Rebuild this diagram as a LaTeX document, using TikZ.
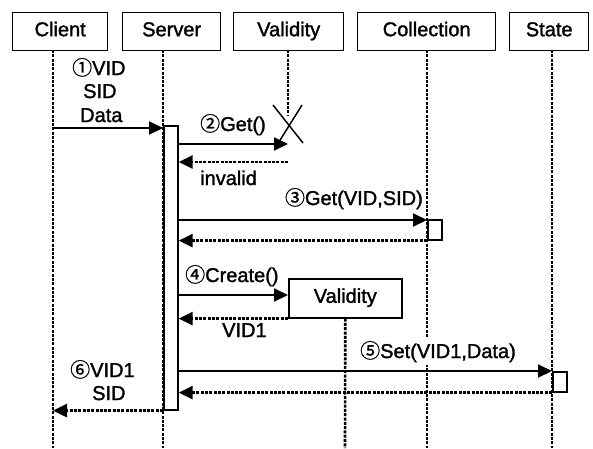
\documentclass[tikz,border=0pt]{standalone}
\usepackage{fontspec}
\setmainfont[FakeBold=1.5]{Liberation Sans}
\newfontfamily\cjk[FakeBold=1]{Noto Sans CJK JP}
\usetikzlibrary{arrows.meta}
\begin{document}
\begin{tikzpicture}[x=1pt,y=-1pt,
  txt/.style={font=\fontsize{20}{24}\selectfont},
  hdr/.style={draw,line width=1.4pt,txt,minimum height=38pt,inner sep=0pt,text height=14pt,text depth=5pt,anchor=north west},
  life/.style={line width=2.6pt,dash pattern=on 3pt off 1.3pt},
  msg/.style={line width=2pt,-{Triangle[length=14pt,width=13pt]}},
  ret/.style={life,-{Triangle[length=14pt,width=13pt]}},
  actbox/.style={draw,fill=white,line width=1.6pt,inner sep=0pt,anchor=north west},
  lbl/.style={txt,inner sep=0pt},
  cross/.style={line width=1.5pt}]
\useasboundingbox (0,0) rectangle (593,448);
% header boxes
\node[hdr,minimum width=95pt] (client) at (12,12) {Client};
\node[hdr,minimum width=98pt] (server) at (122,12) {Server};
\node[hdr,minimum width=110pt] (valid) at (233,12) {Validity};
\node[hdr,minimum width=138pt] (coll) at (357,12) {Collection};
\node[hdr,minimum width=79pt] (state) at (509,12) {State};
% lifeline end points
\coordinate (cT) at (53,50);  \coordinate (cB) at (53,448);
\coordinate (sT) at (163,50); \coordinate (sB) at (163,448);
\coordinate (vT) at (288,50); \coordinate (vX) at (288,116);
\coordinate (kT) at (427,50); \coordinate (kB) at (427,448);
\coordinate (tT) at (552,50); \coordinate (tB) at (552,448);
\coordinate (vbB) at (345,448);
% X end points
\coordinate (x1) at (273,105); \coordinate (x2) at (303,143);
\coordinate (x3) at (302,105); \coordinate (x4) at (277,145);
% message heights
\coordinate (y1) at (0,128);
\coordinate (y2) at (0,144);
\coordinate (y3) at (0,162);
\coordinate (y4) at (0,220);
\coordinate (y6) at (0,295);
% lifelines
\draw[life] (cT) -- (cB);
\draw[life] (sT) -- (sB);
\draw[life] (vT) -- (vX);
\draw[life] (kT) -- (kB);
\draw[life] (tT) -- (tB);
% activations
\node[actbox,minimum width=14pt,minimum height=284pt] (act) at (163,125) {};
\node[actbox,minimum width=14pt,minimum height=20pt] (kact) at (427,219) {};
\node[actbox,minimum width=14pt,minimum height=20pt] (sact) at (552,371) {};
\node[actbox,txt,minimum width=113pt,minimum height=39pt,text height=14pt,text depth=5pt] (vbox) at (288,278) {Validity};
\draw[life] (vbox.south) -- (vbB);
% X
\draw[cross] (x1) -- (x2);
\draw[cross] (x3) -- (x4);
% messages
\draw[msg] (cT |- y1) -- (act.west |- y1);
\draw[msg] (act.east |- y2) -- (vT |- y2);
\draw[ret] (vT |- y3) -- (act.east |- y3);
\draw[msg] (act.east |- y4) -- (kact.north west |- y4);
\draw[ret] (kact.south west) -- (act.east |- kact.south west);
\draw[msg] (act.east |- y6) -- (vbox.west |- y6);
\draw[ret] (vbox.south west) -- (act.east |- vbox.south west);
\draw[msg] (act.east |- sact.north west) -- (sact.north west);
\draw[ret] (sact.south west) -- (act.east |- sact.south west);
\draw[ret] (act.south west) -- (cT |- act.south west);
% labels
\node[lbl,anchor=base west] (l1a) at (72,75) {{\cjk ①}VID};
\node[lbl,anchor=base west] (l1b) at (83,98) {SID};
\node[lbl,anchor=base west] (l1c) at (80,122) {Data};
\node[lbl,anchor=base west] (l2) at (200,131) {{\cjk ②}Get()};
\node[lbl,anchor=base west] (l2r) at (200,185) {invalid};
\node[lbl,anchor=base east] (l3) at (423,205) {{\cjk ③}Get(VID,SID)};
\node[lbl,anchor=base west] (l4) at (185,282) {{\cjk ④}Create()};
\node[lbl,anchor=base west] (l4r) at (222,337) {VID1};
\node[lbl,anchor=base west,fill=white,inner sep=3pt] (l5) at (357,358) {{\cjk ⑤}Set(VID1,Data)};
\node[lbl,anchor=base west] (l6a) at (70,377) {{\cjk ⑥}VID1};
\node[lbl,anchor=base west] (l6b) at (92,400) {SID};
\end{tikzpicture}
\end{document}
